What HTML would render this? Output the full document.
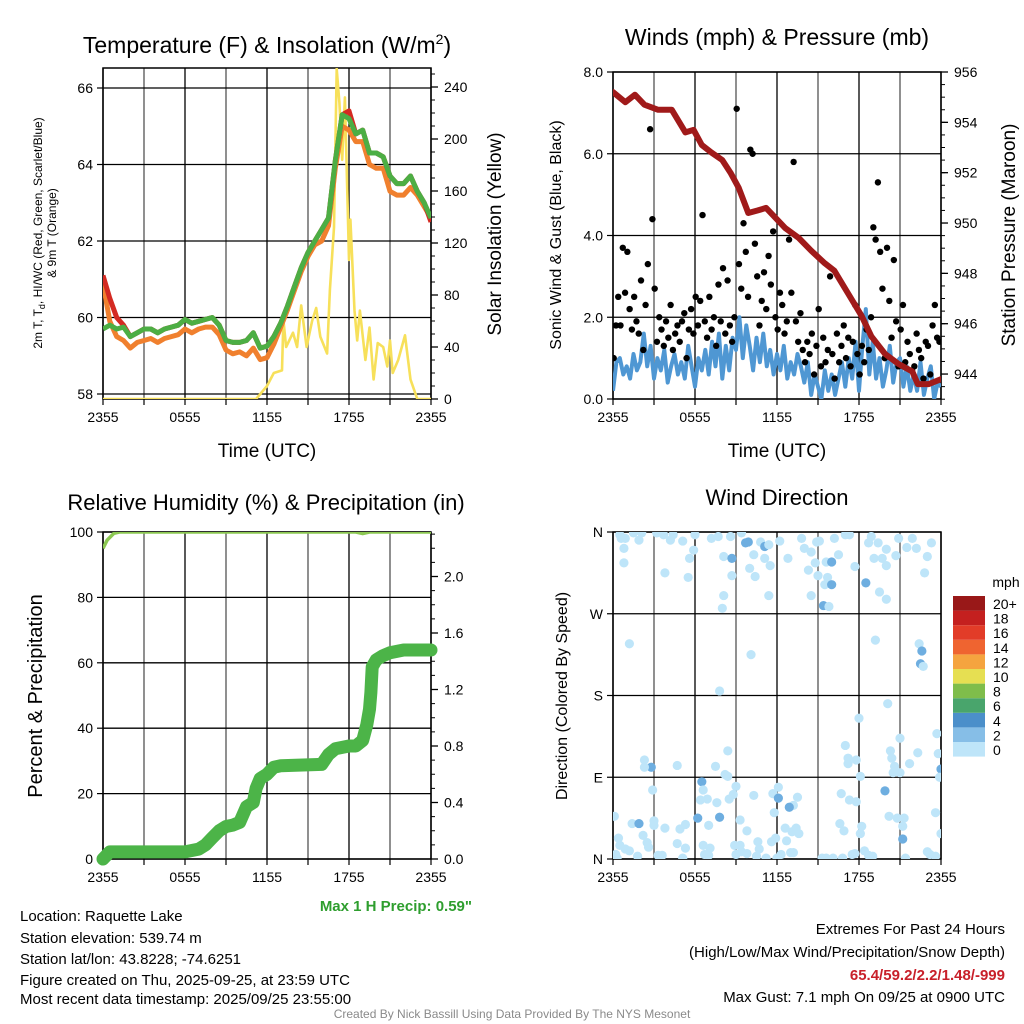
<!DOCTYPE html>
<html><head><meta charset="utf-8"><style>
html,body{margin:0;padding:0;background:#fff}
svg{display:block;font-family:"Liberation Sans",sans-serif}
</style></head><body>
<svg id="chart" width="1024" height="1024" viewBox="0 0 1024 1024" xmlns="http://www.w3.org/2000/svg">
<defs>
<clipPath id="c1"><rect x="103" y="68" width="328" height="331"/></clipPath>
<clipPath id="c2"><rect x="613" y="72" width="328" height="327"/></clipPath>
<clipPath id="c3"><rect x="103" y="532" width="328" height="327"/></clipPath>
<clipPath id="c4"><rect x="613" y="532" width="328" height="327"/></clipPath>
</defs>
<g id="p1"></g>
<g id="p2"></g>
<g id="p3"></g>
<g id="p4"></g>

<text x="267" y="53" font-size="23" text-anchor="middle">Temperature (F) &amp; Insolation (W/m<tspan dy="-9" font-size="14">2</tspan><tspan dy="9">)</tspan></text>
<text transform="translate(42,233) rotate(-90)" font-size="12" text-anchor="middle">2m T, T<tspan font-size="9" dy="3">d</tspan><tspan dy="-3">, HI/WC (Red, Green, Scarlet/Blue)</tspan></text>
<text transform="translate(56,233) rotate(-90)" font-size="12" text-anchor="middle">&amp; 9m T (Orange)</text>
<text transform="translate(501,234) rotate(-90)" font-size="19" text-anchor="middle">Solar Insolation (Yellow)</text>
<text x="267" y="457" font-size="19" text-anchor="middle">Time (UTC)</text>

<text x="777" y="45" font-size="23" text-anchor="middle">Winds (mph) &amp; Pressure (mb)</text>
<text transform="translate(561,235) rotate(-90)" font-size="16" text-anchor="middle">Sonic Wind &amp; Gust (Blue, Black)</text>
<text transform="translate(1015,235) rotate(-90)" font-size="19" text-anchor="middle">Station Pressure (Maroon)</text>
<text x="777" y="457" font-size="19" text-anchor="middle">Time (UTC)</text>

<text x="266" y="510" font-size="22" text-anchor="middle">Relative Humidity (%) &amp; Precipitation (in)</text>
<text transform="translate(42,696) rotate(-90)" font-size="20" text-anchor="middle">Percent &amp; Precipitation</text>
<text x="472" y="911" font-size="15" font-weight="bold" fill="#2e9e2e" text-anchor="end">Max 1 H Precip: 0.59"</text>

<text x="777" y="505" font-size="22" text-anchor="middle">Wind Direction</text>
<text transform="translate(567,696) rotate(-90)" font-size="16" text-anchor="middle">Direction (Colored By Speed)</text>
<text x="1006" y="587" font-size="14" text-anchor="middle">mph</text>
<g id="legend"></g>

<g font-size="15">
<text x="20" y="921">Location: Raquette Lake</text>
<text x="20" y="943">Station elevation: 539.74 m</text>
<text x="20" y="964">Station lat/lon: 43.8228; -74.6251</text>
<text x="20" y="985">Figure created on Thu, 2025-09-25, at 23:59 UTC</text>
<text x="20" y="1004">Most recent data timestamp: 2025/09/25 23:55:00</text>
</g>
<g font-size="15" text-anchor="end">
<text x="1005" y="934">Extremes For Past 24 Hours</text>
<text x="1005" y="957">(High/Low/Max Wind/Precipitation/Snow Depth)</text>
<text x="1005" y="980" fill="#c8202a" font-weight="bold">65.4/59.2/2.2/1.48/-999</text>
<text x="1005" y="1002">Max Gust: 7.1 mph On 09/25 at 0900 UTC</text>
</g>
<text x="512" y="1018" font-size="12" fill="#8a8a8a" text-anchor="middle">Created By Nick Bassill Using Data Provided By The NYS Mesonet</text>
</svg>
<script>
// ---------- data ----------
const xTickLabels = ["2355","0555","1155","1755","2355"];
const tempHours = [0,0.5,1,1.5,2,2.5,3,3.5,4,4.5,5,5.5,6,6.5,7,7.5,8,8.5,9,9.5,10,10.5,11,11.5,12,12.5,13,13.5,14,14.5,15,15.5,16,16.5,17,17.5,18,18.5,19,19.5,20,20.5,21,21.5,22,22.5,23,23.5,24];
const greenT = [59.7,59.8,59.7,59.75,59.5,59.6,59.7,59.7,59.6,59.7,59.75,59.8,59.95,59.85,59.9,59.95,60.0,59.8,59.4,59.35,59.35,59.4,59.6,59.2,59.25,59.5,59.85,60.3,60.8,61.3,61.7,62.0,62.3,62.6,64.1,65.3,65.2,64.8,64.9,64.3,64.3,64.2,63.7,63.5,63.5,63.7,63.3,63.0,62.6];
const redT = [61.1,60.5,60.0,59.8,59.5,59.6,59.7,59.7,59.6,59.7,59.75,59.8,59.95,59.85,59.9,59.95,60.0,59.8,59.4,59.35,59.35,59.4,59.6,59.2,59.25,59.5,59.85,60.3,60.8,61.3,61.7,62.0,62.3,62.6,64.1,65.3,65.4,64.8,64.9,64.3,64.3,64.2,63.7,63.5,63.5,63.7,63.3,63.0,62.5];
const orangeT = [60.9,59.9,59.5,59.4,59.2,59.35,59.4,59.45,59.35,59.45,59.5,59.55,59.7,59.6,59.7,59.75,59.75,59.55,59.15,59.05,59.1,59.0,59.2,58.9,58.95,59.3,59.75,60.2,60.7,61.2,61.6,61.9,62.0,62.4,63.9,65.0,64.9,64.6,64.6,64.0,63.9,63.9,63.3,63.2,63.2,63.4,63.2,62.9,62.6];
const solHours = [0,11.2,12.0,12.5,13.1,13.2,13.4,13.9,14.2,14.5,14.9,15.3,15.6,15.9,16.4,16.6,16.9,17.1,17.3,17.5,17.7,18.0,18.1,18.4,18.6,18.8,19.2,19.5,19.8,20.1,20.5,20.8,21.0,21.2,21.6,22.1,22.5,23.0,24];
const solVals = [0,0,10,20,22,61,40,51,40,72,40,60,70,48,35,84,132,254,228,184,232,107,138,68,45,68,30,55,15,43,40,25,45,20,30,49,15,0,0];
const tempTicks = [58,60,62,64,66];
const solTicks = [0,40,80,120,160,200,240];

const presHours = [0,0.9,1.6,2.3,3.3,4.3,5.3,5.9,6.5,7.2,8.0,8.6,9.2,9.9,10.6,11.2,12.6,13.6,14.5,15.5,16.2,17.2,18.2,18.9,19.9,20.9,21.9,22.3,23.1,24];
const presVals = [955.2,954.8,955.1,954.7,954.5,954.5,953.6,953.7,953.1,952.8,952.5,952.0,951.4,950.4,950.5,950.6,949.8,949.4,948.9,948.4,948.1,947.2,946.3,945.5,944.8,944.4,944.1,943.6,943.6,943.8];
const windSpeed = [0.2,0.9,1.0,0.6,0.8,0.5,1.1,0.7,0.9,1.6,0.8,1.3,0.5,1.0,0.7,1.2,0.4,0.8,1.1,0.6,0.9,0.5,1.3,0.8,0.3,1.0,0.7,1.2,0.6,1.4,0.8,1.6,0.5,1.3,0.7,1.5,1.2,2.0,1.0,1.8,1.3,0.7,1.5,0.9,1.6,0.8,1.2,0.6,1.1,0.7,1.3,0.5,0.9,0.6,1.1,0.8,0.4,0.9,0.1,0.6,0.3,0.0,0.7,0.2,0.6,0.1,0.5,0.9,0.3,1.0,0.5,1.4,0.2,1.3,2.2,0.6,1.4,0.5,1.0,0.3,0.7,1.3,0.4,0.9,1.0,0.3,0.8,0.2,0.6,0.2,0.9,0.1,0.5,0.8,0.0,0.4,0.3];
const gustVals = [1.0,1.8,2.5,1.8,3.7,2.6,3.6,2.2,1.7,2.5,1.9,1.6,2.9,1.2,2.3,3.3,6.6,4.4,2.7,1.4,2.0,1.7,1.3,1.9,1.5,2.3,1.2,1.6,1.8,1.4,1.9,2.1,1.0,1.7,2.2,1.6,2.5,1.8,2.4,4.5,1.9,1.5,2.5,1.7,2.0,1.3,2.8,1.9,3.2,1.6,2.9,1.8,1.4,2.0,7.1,3.3,2.7,4.3,3.6,2.5,6.1,6.0,3.8,3.0,1.8,2.4,3.1,2.2,3.5,2.8,4.1,2.0,1.7,2.6,2.3,1.6,1.9,3.9,2.6,5.8,1.9,1.4,2.1,1.2,0.9,1.4,1.1,1.6,0.6,1.3,2.2,0.8,1.5,0.9,1.2,3.0,1.1,0.5,1.6,0.9,1.3,1.8,1.0,1.5,0.8,1.4,2.3,1.1,0.6,1.3,0.9,1.7,1.2,2.0,4.2,3.9,5.3,3.6,2.7,1.0,3.7,2.4,1.5,3.4,1.9,0.8,1.7,2.3,0.9,1.4,1.1,0.7,0.8,1.6,1.2,1.0,0.5,1.4,1.3,0.6,1.8,2.3,1.5,1.4];
const windTicks = [0,2,4,6,8];
const windTickLabels = ["0.0","2.0","4.0","6.0","8.0"];
const presTicks = [944,946,948,950,952,954,956];

const rhHours = [0,0.3,0.8,1.2,18.5,19.0,19.5,24];
const rhVals = [95,97.5,99.6,100,100,99.5,100,100];
const precipHours = [0,0.5,6,6.5,7,7.5,8,8.5,9,9.5,10,10.5,11,11.2,11.5,12,12.5,13,16,16.5,17,17.5,18,18.5,19,19.3,19.5,19.6,19.7,20,20.5,21,21.5,22,24];
const precipVals = [0,0.05,0.05,0.06,0.07,0.10,0.15,0.20,0.23,0.24,0.26,0.37,0.40,0.50,0.57,0.60,0.65,0.66,0.67,0.74,0.78,0.79,0.80,0.80,0.84,0.95,1.06,1.18,1.36,1.41,1.44,1.46,1.47,1.48,1.48];
const rhTicks = [0,20,40,60,80,100];
const precipTicks = [0,0.4,0.8,1.2,1.6,2.0];
const precipTickLabels = ["0.0","0.4","0.8","1.2","1.6","2.0"];

const dirHours = [0.5,0.9,1.5,1.9,2.1,3.2,3.7,4.2,4.4,5.1,5.9,5.6,6.0,7.2,7.7,8.6,9.4,9.7,9.9,10.8,11.1,11.4,12.2,13.8,14.0,14.5,14.9,15.1,16.2,17.0,17.3,18.7,18.9,19.4,20.0,20.9,21.5,21.9,22.2,23.3,0.8,0.6,
0.8,3.8,5.5,8.1,8.7,8.7,10.3,10.0,11.1,11.5,10.4,12.8,14.3,14.8,15.0,15.6,16.0,16.5,15.7,15.5,16.0,17.7,18.5,19.1,19.7,20.0,20.7,22.8,23.0,8.1,8.0,11.4,14.5,15.4,15.8,19.5,20.0,
1.2,10.1,19.2,22.4,22.6,22.5,22.7,7.8,20.1,18.0,17.0,21.0,23.7,20.3,22.3,8.4,2.3,2.8,2.3,4.7,7.5,23.8,17.2,17.8,17.2,20.4,20.6,20.5,21.0,21.7,24.0,23.9,8.2,8.4,18.1,
6.5,6.6,9.0,10.3,12.1,11.7,12.1,13.5,2.9,6.4,6.9,7.6,8.5,8.8,16.7,17.3,17.8,19.9,13.2,12.9,11.8,0.1,1.4,1.9,3.0,3.0,3.8,5.3,4.9,6.2,7.0,7.8,9.3,9.8,12.6,13.4,13.6,13.1,12.7,11.6,11.9,16.6,16.9,18.2,18.1,20.2,20.8,21.3,21.2,21.2,23.6,24.0,
0.4,2.2,2.5,2.6,4.7,5.3,6.6,7.1,8.9,9.3,9.4,10.6,10.7,6.7,0.5,0.9,1.2,0.2,1.8,3.3,3.6,5.1,7.0,9.0,9.8,10.5,11.2,12.0,12.3,13.0,13.2,15.3,15.6,16.1,16.8,17.5,17.7,18.4,18.7,19.0,21.4,23.0,23.2,23.6,0.3];
const dirDeg = [357,353,359,351,359,359,357,351,357,350,340,331,357,353,355,355,359,348,349,349,344,346,350,353,342,338,349,350,353,357,357,348,355,348,341,353,343,353,342,348,342,353,
326,315,310,333,331,312,335,320,331,323,311,331,318,326,312,327,327,335,310,302,302,322,304,331,331,323,334,315,333,290,276,290,290,279,278,294,286,
237,225,241,237,229,215,212,185,171,155,125,133,138,119,117,119,109,101,101,103,102,116,111,109,105,111,102,95,95,105,99,90,93,91,91,
85,76,80,70,79,72,67,68,76,65,66,62,66,71,72,65,63,75,59,57,51,47,39,39,42,37,34,38,33,45,37,46,43,31,34,34,28,30,20,19,23,39,31,36,28,47,45,45,36,22,51,28,
23,26,18,13,17,12,15,12,15,15,8,19,11,5,15,11,9,5,3,4,4,1,4,5,6,3,1,1,5,7,7,1,1,1,1,5,6,9,4,3,1,8,5,3,1];
const dirSpeed = dirHours.map(function(){return 1;});
const darkIdx = [17,18,20,58,62,64,75,96,83,84,46,109,114,131,120,133,137,163,143,145];
const legendLabels = ["0","2","4","6","8","10","12","14","16","18","20+"];
const legendColors = ["#bee5f9","#86bee7","#4b8fca","#49a56c","#7fbd4b","#e6df52","#f5a43f","#ef6430","#e23c28","#c4201f","#991818"];
const speedBins = [0,2,4,6,8,10,12,14,16,18,20];

// ---------- helpers ----------
const NS = "http://www.w3.org/2000/svg";
function mk(parent, tag, attrs){ const e=document.createElementNS(NS,tag); for(const k in attrs) e.setAttribute(k,attrs[k]); parent.appendChild(e); return e; }
function poly(pts){ return pts.map(p=>p[0].toFixed(1)+","+p[1].toFixed(1)).join(" "); }
darkIdx.forEach(function(i){ if(i<dirSpeed.length) dirSpeed[i]=2.5; });

function frame(g, x0, y0, w, h, hLines){
  // vertical grid every 3 hours
  for(let k=0;k<=8;k++){
    const x=x0+k*w/8;
    const l=mk(g,"line",{x1:x,y1:y0,x2:x,y2:y0+h,stroke:"#000","stroke-width":k%2?1.6:1.3,"stroke-opacity":k%2?0.55:1});
    
    
  }
  hLines.forEach(function(y){
    const l=mk(g,"line",{x1:x0,y1:y,x2:x0+w,y2:y,stroke:"#000","stroke-width":1.3});
    
    
  });
  const r=mk(g,"rect",{x:x0,y:y0,width:w,height:h,fill:"none",stroke:"#000","stroke-width":1.5});
  
  
  // x ticks
  for(let k=0;k<=8;k++){
    const x=x0+k*w/8;
    mk(g,"line",{x1:x,y1:y0+h,x2:x,y2:y0+h+6,stroke:"#000","stroke-width":1.2});
  }
  xTickLabels.forEach(function(t,i){
    const tx=mk(g,"text",{x:x0+i*w/4,y:y0+h+23,"font-size":14,"text-anchor":"middle"});
    tx.textContent=t;
    
    
  });
}
function leftTicks(g,x0,ticks,labels,yf){
  ticks.forEach(function(v,i){
    const y=yf(v);
    mk(g,"line",{x1:x0-6,y1:y,x2:x0,y2:y,stroke:"#000","stroke-width":1.2});
    const t=mk(g,"text",{x:x0-10,y:y+5,"font-size":14,"text-anchor":"end"});
    t.textContent=labels[i];
    
    
  });
}
function rightTicks(g,x1,ticks,labels,yf,minorStep,lo,hi){
  for(let v=lo; v<=hi+1e-9; v+=minorStep){
    const y=yf(v);
    mk(g,"line",{x1:x1,y1:y,x2:x1+4,y2:y,stroke:"#000","stroke-width":1});
  }
  ticks.forEach(function(v,i){
    const y=yf(v);
    mk(g,"line",{x1:x1,y1:y,x2:x1+7,y2:y,stroke:"#000","stroke-width":1.3});
    const t=mk(g,"text",{x:x1+13,y:y+5,"font-size":14,"text-anchor":"start"});
    t.textContent=labels[i];
    
    
  });
}

// ---------- panel 1 ----------
(function(){
  const g=document.getElementById("p1");
  const X=h=>103+h*328/24, Y=t=>394-(t-58)*38.25, YS=v=>399-v*1.3;
  frame(g,103,68,328,331,tempTicks.map(Y));
  leftTicks(g,103,tempTicks,tempTicks.map(String),Y);
  rightTicks(g,431,solTicks,solTicks.map(String),YS,10,0,250);
  const c=mk(g,"g",{"clip-path":"url(#c1)"});
  const sol=mk(c,"polyline",{points:poly(solHours.map((h,i)=>[X(h),YS(solVals[i])])),fill:"none",stroke:"#f7e05a","stroke-width":2.6,"stroke-linejoin":"round"});
  
  
  const o=mk(c,"polyline",{points:poly(tempHours.map((h,i)=>[X(h),Y(orangeT[i])])),fill:"none",stroke:"#f0802e","stroke-width":5,"stroke-linejoin":"round"});
  
  
  const r=mk(c,"polyline",{points:poly(tempHours.map((h,i)=>[X(h),Y(redT[i])])),fill:"none",stroke:"#d42a22","stroke-width":5,"stroke-linejoin":"round"});
  
  
  const gr=mk(c,"polyline",{points:poly(tempHours.map((h,i)=>[X(h),Y(greenT[i])])),fill:"none",stroke:"#4cae44","stroke-width":5,"stroke-linejoin":"round"});
  
  
})();

// ---------- panel 2 ----------
(function(){
  const g=document.getElementById("p2");
  const X=h=>613+h*328/24, YW=m=>399-m*40.875, YP=p=>72+(956-p)*25.17;
  frame(g,613,72,328,327,windTicks.map(YW));
  leftTicks(g,613,windTicks,windTickLabels,YW);
  rightTicks(g,941,presTicks,presTicks.map(String),YP,0.5,943,956);
  const c=mk(g,"g",{"clip-path":"url(#c2)"});
  const w=mk(c,"polyline",{points:poly(windSpeed.map((v,i)=>[X(i*0.25),YW(v)])),fill:"none",stroke:"#4f97d3","stroke-width":4,"stroke-linejoin":"round"});
  
  
  gustVals.forEach(function(v,i){
    const d=mk(c,"circle",{cx:X(i/6+0.05),cy:YW(v),r:3.2,fill:"#000"});
    
    
  });
  const p=mk(c,"polyline",{points:poly(presHours.map((h,i)=>[X(h),YP(presVals[i])])),fill:"none",stroke:"#a01a1a","stroke-width":6,"stroke-linejoin":"round","stroke-linecap":"round"});
  
  
})();

// ---------- panel 3 ----------
(function(){
  const g=document.getElementById("p3");
  const X=h=>103+h*328/24, YR=r=>859-r*3.27, YP=v=>859-v*141.25;
  frame(g,103,532,328,327,rhTicks.map(YR));
  leftTicks(g,103,rhTicks,rhTicks.map(String),YR);
  rightTicks(g,431,precipTicks,precipTickLabels,YP,0.1,0,2.3);
  const c=mk(g,"g",{"clip-path":"url(#c3)"});
  const rh=mk(c,"polyline",{points:poly(rhHours.map((h,i)=>[X(h),YR(rhVals[i])])),fill:"none",stroke:"#8cc852","stroke-width":3.5,"stroke-linejoin":"round"});
  
  
  const pr=mk(g,"polyline",{points:poly(precipHours.map((h,i)=>[X(h),YP(precipVals[i])])),fill:"none",stroke:"#4cb448","stroke-width":13,"stroke-linejoin":"round","stroke-linecap":"round"});
  
  
})();

// ---------- panel 4 ----------
(function(){
  const g=document.getElementById("p4");
  const X=h=>613+h*328/24, YD=d=>859-d*327/360;
  const dirTicks=[0,90,180,270,360], dirLabels=["N","E","S","W","N"];
  frame(g,613,532,328,327,dirTicks.map(YD));
  leftTicks(g,613,dirTicks,dirLabels,YD);
  function col(s){ let k=0; for(let i=0;i<speedBins.length;i++) if(s>=speedBins[i]) k=i; return legendColors[k]; }
  const c=mk(g,"g",{"clip-path":"url(#c4)"});
  dirHours.forEach(function(h,i){
    const s=dirSpeed[i];
    const d=mk(c,"circle",{cx:X(h),cy:YD(dirDeg[i]),r:4.6,fill:s>=2?"#6eaee0":col(s)});
    
    
  });
  const lg=document.getElementById("legend");
  legendLabels.forEach(function(t,i){
    const y=742-i*14.6;
    const r=mk(lg,"rect",{x:953,y:y,width:32,height:14.6,fill:legendColors[i]});
    
    
    const tx=mk(lg,"text",{x:993,y:y+13,"font-size":14});
    tx.textContent=t;
    
    
  });
})();
</script>
</body></html>
